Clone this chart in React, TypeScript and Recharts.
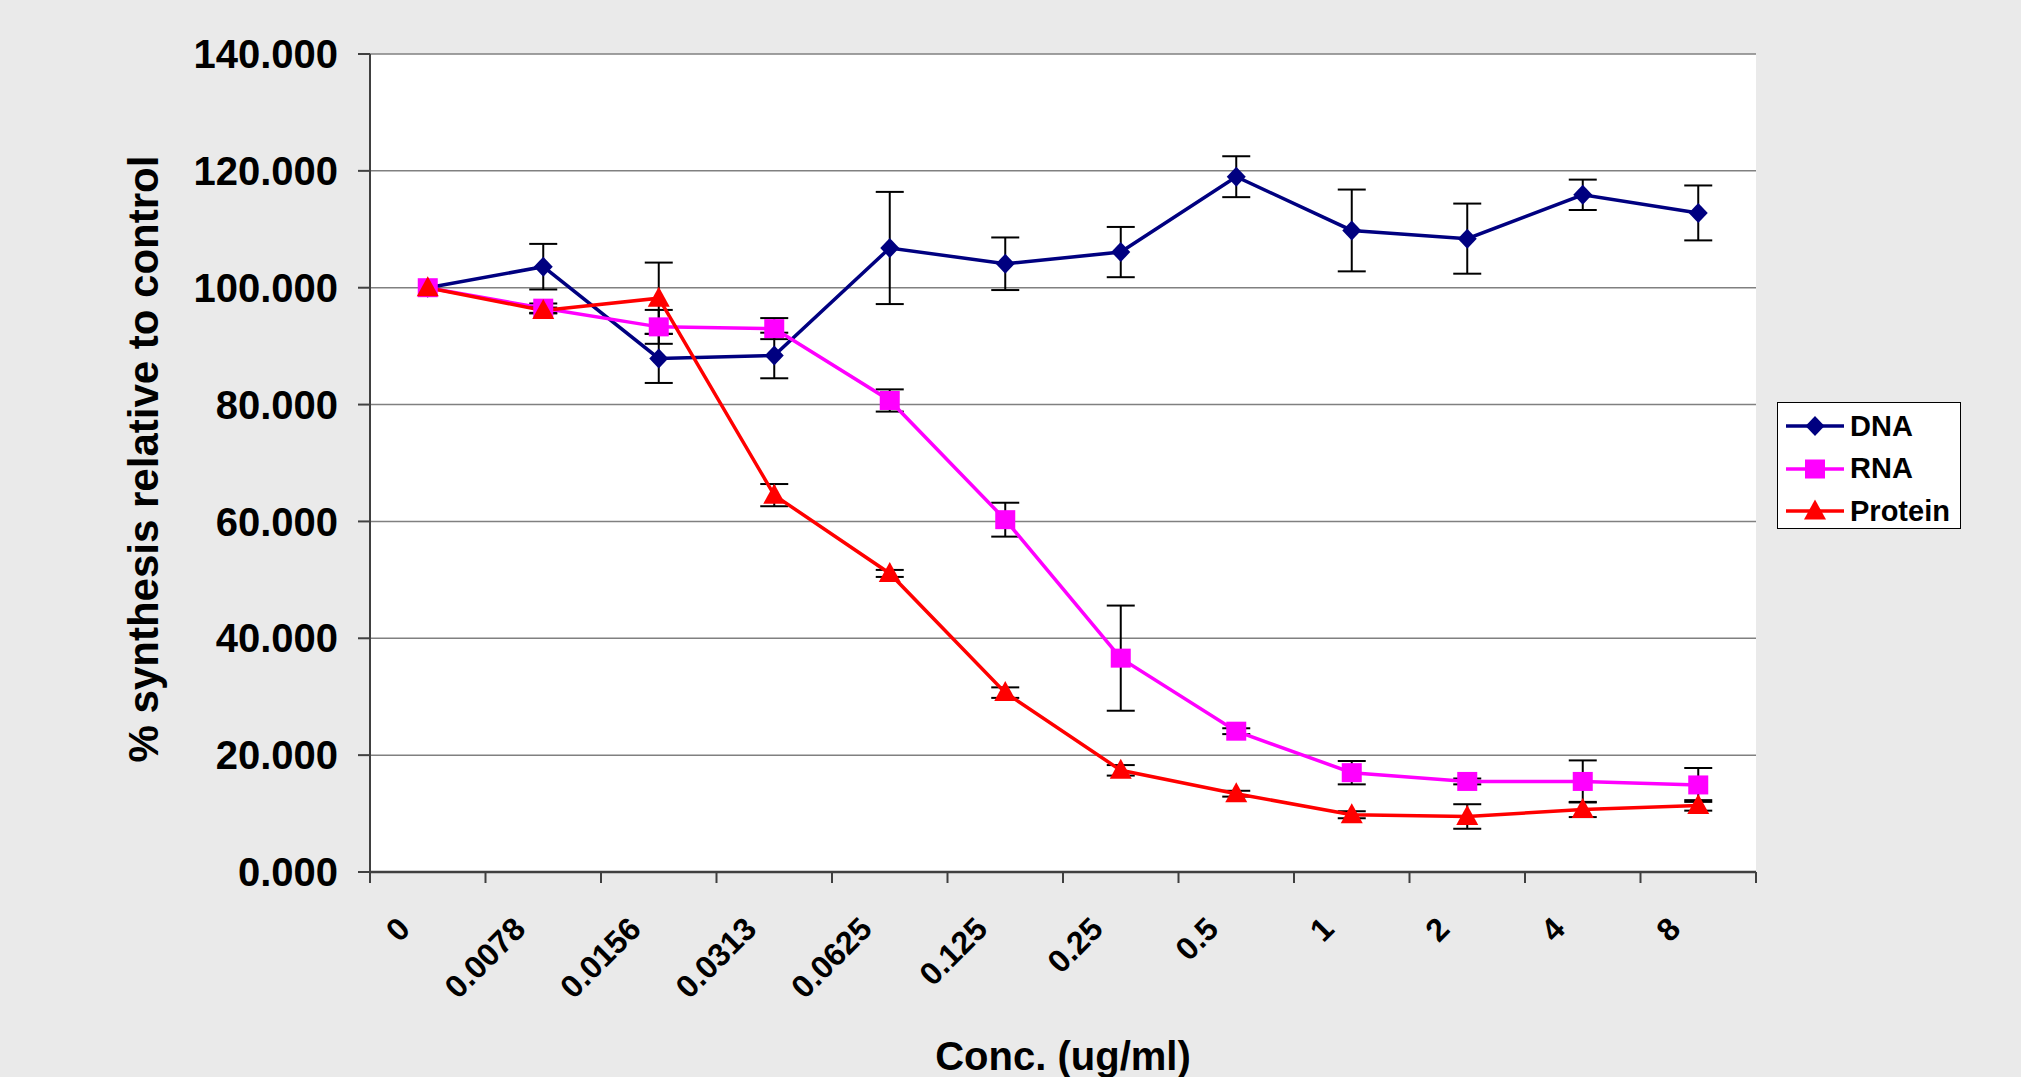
import { LineChart, Line, XAxis, YAxis, CartesianGrid, ErrorBar, Legend } from 'recharts';

const categories = ['0', '0.0078', '0.0156', '0.0313', '0.0625', '0.125', '0.25', '0.5', '1', '2', '4', '8'];

const dnaValues = [100, 103.6, 87.9, 88.4, 106.8, 104.1, 106.1, 119.0, 109.8, 108.4, 115.9, 112.8];
const dnaErrors = [0, 3.9, 4.2, 3.9, 9.6, 4.5, 4.3, 3.5, 7.0, 6.0, 2.6, 4.7];

const rnaValues = [100, 96.5, 93.3, 93.0, 80.7, 60.3, 36.6, 24.1, 17.0, 15.5, 15.5, 14.9];
const rnaErrors = [0, 0.8, 2.9, 1.8, 1.9, 2.9, 9.0, 0.5, 2.0, 0.5, 3.6, 2.9];

const proteinValues = [100, 96.1, 98.2, 64.5, 51.1, 30.7, 17.4, 13.4, 9.8, 9.5, 10.7, 11.4];
const proteinErrors = [0, 0.5, 6.1, 1.9, 0.6, 0.9, 0.9, 0.5, 0.6, 2.1, 1.3, 0.9];

const yTicks = [0, 20, 40, 60, 80, 100, 120, 140];

const seriesOrder = ['dna', 'rna', 'protein'];

const data = categories.map((conc, i) => ({
  conc,
  dna: dnaValues[i],
  dnaErr: dnaErrors[i],
  rna: rnaValues[i],
  rnaErr: rnaErrors[i],
  protein: proteinValues[i],
  proteinErr: proteinErrors[i],
}));

const FONT = '"Liberation Sans", Arial, sans-serif';
const AXIS = '#404040';
const GRID = '#808080';
const BG = '#EAEAEA';

const COLORS: Record<string, string> = { dna: '#000080', rna: '#FF00FF', protein: '#FF0000' };

function marker(kind: string, cx: number, cy: number, color: string, key?: string) {
  if (kind === 'dna') {
    return <path key={key} d={`M${cx},${cy - 10} L${cx + 9.5},${cy} L${cx},${cy + 10} L${cx - 9.5},${cy} Z`} fill={color} />;
  }
  if (kind === 'rna') {
    return <rect key={key} x={cx - 10} y={cy - 9.5} width={20} height={19} fill={color} />;
  }
  return <path key={key} d={`M${cx},${cy - 11.5} L${cx + 11},${cy + 8.5} L${cx - 11},${cy + 8.5} Z`} fill={color} />;
}

const makeDot = (kind: string) => (p: any) => {
  if (p.cx == null || p.cy == null) return <g key={`${kind}-${p.index}`} />;
  return marker(kind, p.cx, p.cy, COLORS[kind], `${kind}-${p.index}`);
};

const XTick = (props: any) => {
  const { x, y, payload, index, visibleTicksCount } = props;
  const half = payload.offset ?? 0;
  const tx = x - 16;
  const ty = y + 48;
  return (
    <g>
      <line x1={x - half} x2={x - half} y1={y - 11} y2={y} stroke={AXIS} strokeWidth={2} />
      {index === visibleTicksCount - 1 && (
        <line x1={x + half} x2={x + half} y1={y - 11} y2={y} stroke={AXIS} strokeWidth={2} />
      )}
      <text
        x={tx}
        y={ty}
        transform={`rotate(-45, ${tx}, ${ty})`}
        textAnchor="end"
        fontFamily={FONT}
        fontWeight="bold"
        fontSize={32}
        fill="#000"
      >
        {payload.value}
      </text>
    </g>
  );
};

const LegendBox = (props: any) => {
  const items = [...(props.payload || [])].sort(
    (a: any, b: any) => seriesOrder.indexOf(a.dataKey) - seriesOrder.indexOf(b.dataKey)
  );
  return (
    <div
      style={{
        width: '100%',
        height: '100%',
        boxSizing: 'border-box',
        border: '1.5px solid #000',
        background: '#fff',
        paddingTop: 2,
      }}
    >
      {items.map((item: any) => (
        <div key={item.dataKey} style={{ display: 'flex', alignItems: 'center', height: 42.5 }}>
          <svg width={72} height={30} style={{ display: 'block' }}>
            <line x1={8} x2={66} y1={15} y2={15} stroke={item.color} strokeWidth={3.5} />
            {marker(item.dataKey, 37, 15, item.color)}
          </svg>
          <span style={{ fontFamily: FONT, fontWeight: 'bold', fontSize: 29, color: '#000', lineHeight: 1 }}>
            {item.value}
          </span>
        </div>
      ))}
    </div>
  );
};

export default function App() {
  return (
    <div style={{ width: 2021, height: 1077, background: BG }}>
      <style>{'body{margin:0;}'}</style>
      <LineChart width={2021} height={1077} data={data} margin={{ top: 54, right: 265, bottom: 0, left: 0 }}>
        <CartesianGrid vertical={false} stroke={GRID} strokeWidth={1.5} fill="#fff" />
        <XAxis
          dataKey="conc"
          scale="band"
          height={205}
          interval={0}
          axisLine={{ stroke: AXIS, strokeWidth: 2.5 }}
          tickLine={false}
          tickSize={11}
          tickMargin={0}
          tick={<XTick />}
          label={(p: any) => {
            const vb = p.viewBox;
            return (
              <text
                x={vb.x + vb.width / 2}
                y={vb.y + 198}
                textAnchor="middle"
                fontFamily={FONT}
                fontWeight="bold"
                fontSize={40}
                fill="#000"
              >
                Conc. (ug/ml)
              </text>
            );
          }}
        />
        <YAxis
          width={370}
          domain={[0, 140]}
          ticks={yTicks}
          interval={0}
          tickFormatter={(v: number) => v.toFixed(3)}
          axisLine={{ stroke: AXIS, strokeWidth: 2 }}
          tickLine={{ stroke: AXIS, strokeWidth: 2 }}
          tickSize={12}
          tickMargin={20}
          tick={{ fontFamily: FONT, fontWeight: 'bold', fontSize: 40, fill: '#000' }}
          label={(p: any) => {
            const vb = p.viewBox;
            const cx = vb.x + 158;
            const cy = vb.y + vb.height / 2 - 4;
            return (
              <text
                x={cx}
                y={cy}
                transform={`rotate(-90, ${cx}, ${cy})`}
                textAnchor="middle"
                fontFamily={FONT}
                fontWeight="bold"
                fontSize={42}
                fill="#000"
              >
                % synthesis relative to control
              </text>
            );
          }}
        />
        <YAxis
          yAxisId="border"
          orientation="right"
          width={0}
          domain={[0, 140]}
          tick={false}
          tickLine={false}
          axisLine={{ stroke: GRID, strokeWidth: 2 }}
        />
        <Legend
          layout="vertical"
          align="center"
          verticalAlign="middle"
          content={<LegendBox />}
          wrapperStyle={{ left: 1777, top: 402, width: 184, height: 127 }}
        />
        <Line
          dataKey="dna"
          name="DNA"
          stroke={COLORS.dna}
          strokeWidth={3.5}
          dot={makeDot('dna')}
          activeDot={false}
          isAnimationActive={false}
        >
          <ErrorBar dataKey="dnaErr" direction="y" width={14} stroke="#000" strokeWidth={2} />
        </Line>
        <Line
          dataKey="rna"
          name="RNA"
          stroke={COLORS.rna}
          strokeWidth={3.5}
          dot={makeDot('rna')}
          activeDot={false}
          isAnimationActive={false}
        >
          <ErrorBar dataKey="rnaErr" direction="y" width={14} stroke="#000" strokeWidth={2} />
        </Line>
        <Line
          dataKey="protein"
          name="Protein"
          stroke={COLORS.protein}
          strokeWidth={3.5}
          dot={makeDot('protein')}
          activeDot={false}
          isAnimationActive={false}
        >
          <ErrorBar dataKey="proteinErr" direction="y" width={14} stroke="#000" strokeWidth={2} />
        </Line>
      </LineChart>
    </div>
  );
}
